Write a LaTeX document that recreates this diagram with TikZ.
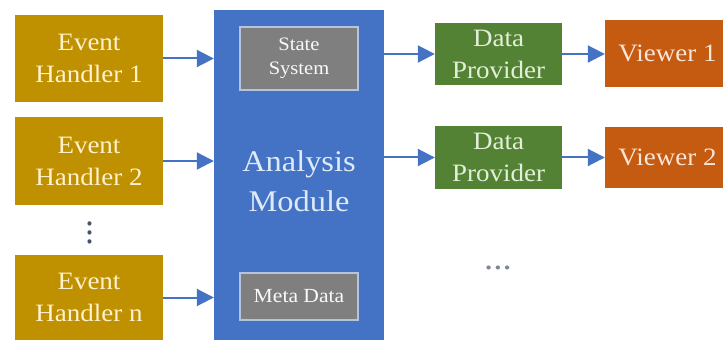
\documentclass[tikz,border=0pt]{standalone}
\usepackage{fontspec}
\setmainfont{Liberation Serif}[FakeStretch=1.08]
\usetikzlibrary{arrows.meta}

\definecolor{gold}{HTML}{BF9000}
\definecolor{goldtxt}{HTML}{FFF2CC}
\definecolor{modblue}{HTML}{4472C4}
\definecolor{modtxt}{HTML}{DEEBF7}
\definecolor{subgray}{HTML}{7F7F7F}
\definecolor{subedge}{HTML}{B4C3E0}
\definecolor{provgreen}{HTML}{548235}
\definecolor{provtxt}{HTML}{E2F0D9}
\definecolor{vieworange}{HTML}{C55A11}
\definecolor{viewtxt}{HTML}{FBE5D6}
\definecolor{dotgray}{HTML}{44546A}

\tikzset{
  box/.style={rectangle, inner sep=0pt, align=center, draw=none},
  handler/.style={box, fill=gold, text=goldtxt, minimum width=148pt, minimum height=87pt,
    font=\fontsize{25}{32}\selectfont},
  module/.style={box, fill=modblue, minimum width=170pt, minimum height=330pt},
  modlabel/.style={box, text=modtxt, font=\fontsize{30}{40}\selectfont},
  sub/.style={box, fill=subgray, draw=subedge, line width=1.2pt, text=white!95!gray,
    minimum width=118pt},
  provider/.style={box, fill=provgreen, text=provtxt, minimum width=127pt, minimum height=62pt,
    font=\fontsize{25}{32}\selectfont},
  viewer/.style={box, fill=vieworange, text=viewtxt, minimum width=125pt,
    font=\fontsize{25}{30}\selectfont},
  flow/.style={draw=modblue, line width=2pt, -{Triangle[length=17pt, width=17pt]}},
  ellip/.style={text=dotgray, font=\fontsize{34}{34}\selectfont, inner sep=0pt}
}

\begin{document}
\begin{tikzpicture}[x=1pt, y=-1pt]
\useasboundingbox[fill=white] (0,0) rectangle (723,342);

% event handlers
\node[handler] (e1) at (89,58.5) {Event\\Handler 1};
\node[handler] (e2) at (89,161) {Event\\Handler 2};
\node[handler, minimum height=85pt] (en) at (89,297.5) {Event\\Handler n};
\node[ellip, rotate=90] (vd) at (90,233) {...};

% analysis module with its internal parts
\node[module] (am) at (299,175) {};
\node[modlabel] (aml) at (299,181) {Analysis\\Module};
\node[sub, minimum height=63pt, font=\fontsize{19}{24}\selectfont] (ss) at (299,58.5) {State\\System};
\node[sub, minimum height=47pt, font=\fontsize{20}{24}\selectfont] (md) at (299,296.5) {Meta Data};

% data providers and viewers
\node[provider] (dp1) at (498.5,54) {Data\\Provider};
\node[provider] (dp2) at (498.5,157.5) {Data\\Provider};
\node[viewer, minimum height=67pt] (v1) at (667.5,53.5) {Viewer 1};
\node[viewer, minimum height=61pt] (v2) at (667.5,157.5) {Viewer 2};
\node[ellip, text=dotgray!70] (hd) at (498,268) {...};

% connectors
\draw[flow] (e1.east) -- (e1.east -| am.west);
\draw[flow] (e2.east) -- (e2.east -| am.west);
\draw[flow] (en.east) -- (en.east -| am.west);
\draw[flow] (dp1.west -| am.east) -- (dp1.west);
\draw[flow] (dp2.west -| am.east) -- (dp2.west);
\draw[flow] (dp1.east) -- (dp1.east -| v1.west);
\draw[flow] (dp2.east) -- (dp2.east -| v2.west);
\end{tikzpicture}
\end{document}
